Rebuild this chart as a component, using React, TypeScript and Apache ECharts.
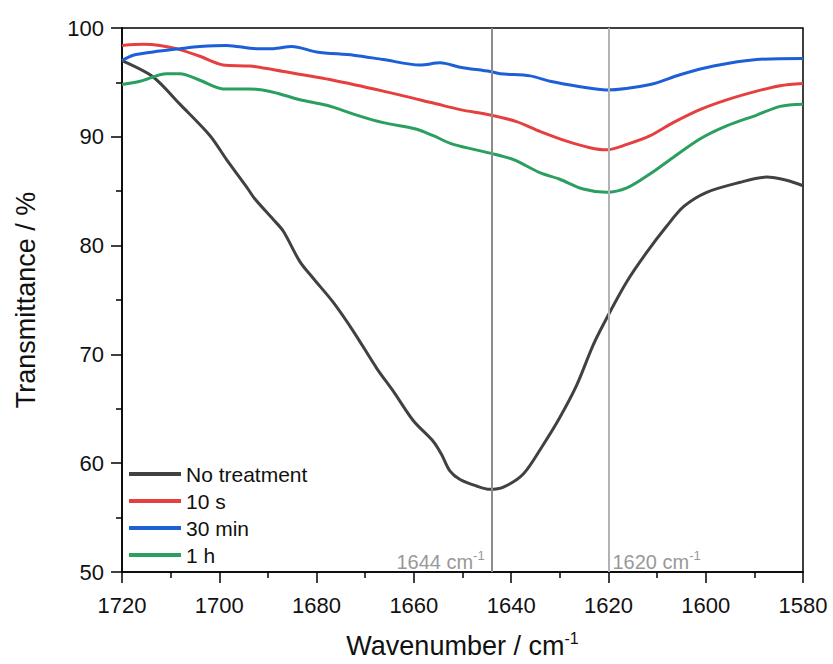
import React, { useEffect, useRef } from "react";
import * as echarts from "echarts";

const seriesNames = ["No treatment", "10 s", "30 min", "1 h"];
const seriesColors = ["#414141", "#e5403f", "#1c5fd6", "#2b9f5f"];

const noTreatment: [number, number][] = [
  [1720, 97.0], [1713.6, 95.5], [1708.1, 93.0], [1701.9, 90.1], [1698.5, 87.9],
  [1694.4, 85.4], [1692.7, 84.3], [1688.9, 82.4], [1686.8, 81.3], [1683.4, 78.5],
  [1680.7, 77.0], [1676.6, 74.8], [1672.4, 72.1], [1667.6, 68.7], [1664.2, 66.6],
  [1660.1, 63.9], [1656.0, 62.0], [1654.3, 60.8], [1652.6, 59.3], [1650.5, 58.5],
  [1647.1, 57.9], [1644.4, 57.6], [1641.6, 57.8], [1637.5, 59.0], [1633.4, 61.7],
  [1630.0, 64.2], [1626.5, 67.2], [1623.1, 70.9], [1620.4, 73.3], [1616.2, 76.7],
  [1612.1, 79.4], [1608.0, 81.8], [1604.5, 83.6], [1599.8, 84.9], [1593.1, 85.8],
  [1587.5, 86.3], [1583.4, 86.0], [1580, 85.5],
];
const tenSeconds: [number, number][] = [
  [1720, 98.4], [1715.6, 98.5], [1712.2, 98.4], [1708.8, 98.1], [1704.0, 97.4],
  [1699.2, 96.6], [1693.7, 96.5], [1686.8, 96.0], [1676.6, 95.2], [1666.3, 94.2],
  [1656.0, 93.1], [1650.5, 92.5], [1644.3, 92.0], [1638.9, 91.4], [1634.1, 90.5],
  [1628.6, 89.6], [1623.8, 89.0], [1620.4, 88.8], [1616.2, 89.3], [1611.4, 90.1],
  [1606.7, 91.3], [1601.2, 92.5], [1595.7, 93.4], [1589.5, 94.2], [1584.7, 94.7],
  [1580, 94.9],
];
const thirtyMinutes: [number, number][] = [
  [1720, 97.0], [1717.7, 97.5], [1713.6, 97.8], [1708.1, 98.1], [1704.0, 98.3],
  [1698.5, 98.4], [1692.3, 98.1], [1688.9, 98.1], [1685.1, 98.3], [1680.0, 97.8],
  [1672.4, 97.5], [1666.3, 97.1], [1658.7, 96.6], [1654.6, 96.8], [1650.5, 96.4],
  [1644.3, 96.0], [1642.3, 95.8], [1636.1, 95.6], [1632.0, 95.1], [1625.8, 94.6],
  [1620.4, 94.3], [1611.4, 94.8], [1605.3, 95.7], [1598.4, 96.5], [1589.5, 97.1],
  [1580, 97.2],
];
const oneHour: [number, number][] = [
  [1720, 94.8], [1716.3, 95.1], [1710.8, 95.8], [1708.1, 95.8], [1704.0, 95.2],
  [1699.2, 94.4], [1693.7, 94.4], [1688.9, 94.1], [1683.4, 93.4], [1677.9, 92.9],
  [1671.1, 91.9], [1666.3, 91.3], [1659.4, 90.7], [1656.0, 90.1], [1651.9, 89.3],
  [1644.3, 88.5], [1639.5, 87.9], [1634.1, 86.7], [1630.0, 86.1], [1625.2, 85.2],
  [1620.4, 84.9], [1616.2, 85.3], [1611.4, 86.6], [1606.7, 88.1], [1601.2, 89.8],
  [1595.7, 91.0], [1589.5, 92.0], [1584.7, 92.8], [1580, 93.0],
];
const seriesData = [noTreatment, tenSeconds, thirtyMinutes, oneHour];

const markerPositions = [1644, 1620];
const markerColors = ["#8c8c8c", "#b3b3b3"];

const FONT = "'Liberation Sans', Arial, sans-serif";

export default function App() {
  const ref = useRef<HTMLDivElement>(null);
  useEffect(() => {
    if (!ref.current) return;
    const chart = echarts.init(ref.current, undefined, { renderer: "svg" });
    const lineSeries: any[] = seriesNames.map((name, i) => ({
      name,
      type: "line",
      data: seriesData[i],
      smooth: 0.3,
      symbol: "none",
      lineStyle: { color: seriesColors[i], width: 3 },
      itemStyle: { color: seriesColors[i] },
      z: 3,
    }));
    lineSeries.push({
      name: "markers",
      type: "line",
      data: [],
      silent: true,
      z: 2,
      markLine: {
        silent: true,
        symbol: "none",
        label: { show: false },
        data: markerPositions.map((v, i) => ({
          xAxis: v,
          lineStyle: { color: markerColors[i], width: 2, type: "solid" },
        })),
      },
      markPoint: {
        silent: true,
        symbol: "circle",
        symbolSize: 0,
        data: markerPositions.map((v, i) => ({
          coord: [v, 50],
          label: {
            show: true,
            position: i === 0 ? "left" : "right",
            offset: [i === 0 ? -2 : -1, -10],
            formatter: `{a|${v} cm}{s|-1}`,
            rich: {
              a: { fontFamily: FONT, fontSize: 20, color: "#999999" },
              s: { fontFamily: FONT, fontSize: 13, color: "#999999", verticalAlign: "top", padding: [0, 0, 13, 0] },
            },
          },
        })),
      },
    });

    chart.setOption({
      animation: false,
      backgroundColor: "#ffffff",
      grid: {
        left: 122,
        right: 30,
        top: 28,
        bottom: 88,
        show: true,
        borderColor: "#000",
        borderWidth: 1.5,
      },
      legend: {
        data: seriesNames,
        orient: "vertical",
        left: 124,
        top: 458,
        itemWidth: 52,
        itemHeight: 4,
        itemGap: 5,
        icon: "rect",
        textStyle: { fontFamily: FONT, fontSize: 21, lineHeight: 22, color: "#111" },
      },
      xAxis: {
        type: "value",
        inverse: true,
        min: 1580,
        max: 1720,
        interval: 20,
        minorTick: { show: true, splitNumber: 2, length: 6, lineStyle: { color: "#000", width: 1.5 } },
        axisLine: { show: true, onZero: false, lineStyle: { color: "#000", width: 1.5 } },
        axisTick: { show: true, inside: false, length: 11, lineStyle: { color: "#000", width: 1.5 } },
        axisLabel: {
          margin: 22,
          fontFamily: FONT,
          fontSize: 22,
          color: "#111",
          formatter: (v: number) => String(v),
        },
        splitLine: { show: false },
        name: "{a|Wavenumber / cm}{s|-1}",
        nameLocation: "middle",
        nameGap: 58,
        nameTextStyle: {
          rich: {
            a: { fontFamily: FONT, fontSize: 27, color: "#111" },
            s: { fontFamily: FONT, fontSize: 16, color: "#111", verticalAlign: "top", padding: [0, 0, 15, 0] },
          },
        },
      },
      yAxis: {
        type: "value",
        min: 50,
        max: 100,
        interval: 10,
        minorTick: { show: true, splitNumber: 2, length: 6, lineStyle: { color: "#000", width: 1.5 } },
        axisLine: { show: true, onZero: false, lineStyle: { color: "#000", width: 1.5 } },
        axisTick: { show: true, inside: false, length: 11, lineStyle: { color: "#000", width: 1.5 } },
        axisLabel: {
          margin: 18,
          fontFamily: FONT,
          fontSize: 22,
          color: "#111",
          formatter: (v: number) => String(v),
        },
        splitLine: { show: false },
        name: "Transmittance / %",
        nameLocation: "middle",
        nameGap: 83,
        nameTextStyle: { fontFamily: FONT, fontSize: 27, color: "#111" },
      },
      series: lineSeries,
    });
    return () => chart.dispose();
  }, []);
  return (
    <div
      ref={ref}
      style={{ position: "fixed", left: 0, top: 0, width: 833, height: 664, background: "#fff" }}
    />
  );
}
